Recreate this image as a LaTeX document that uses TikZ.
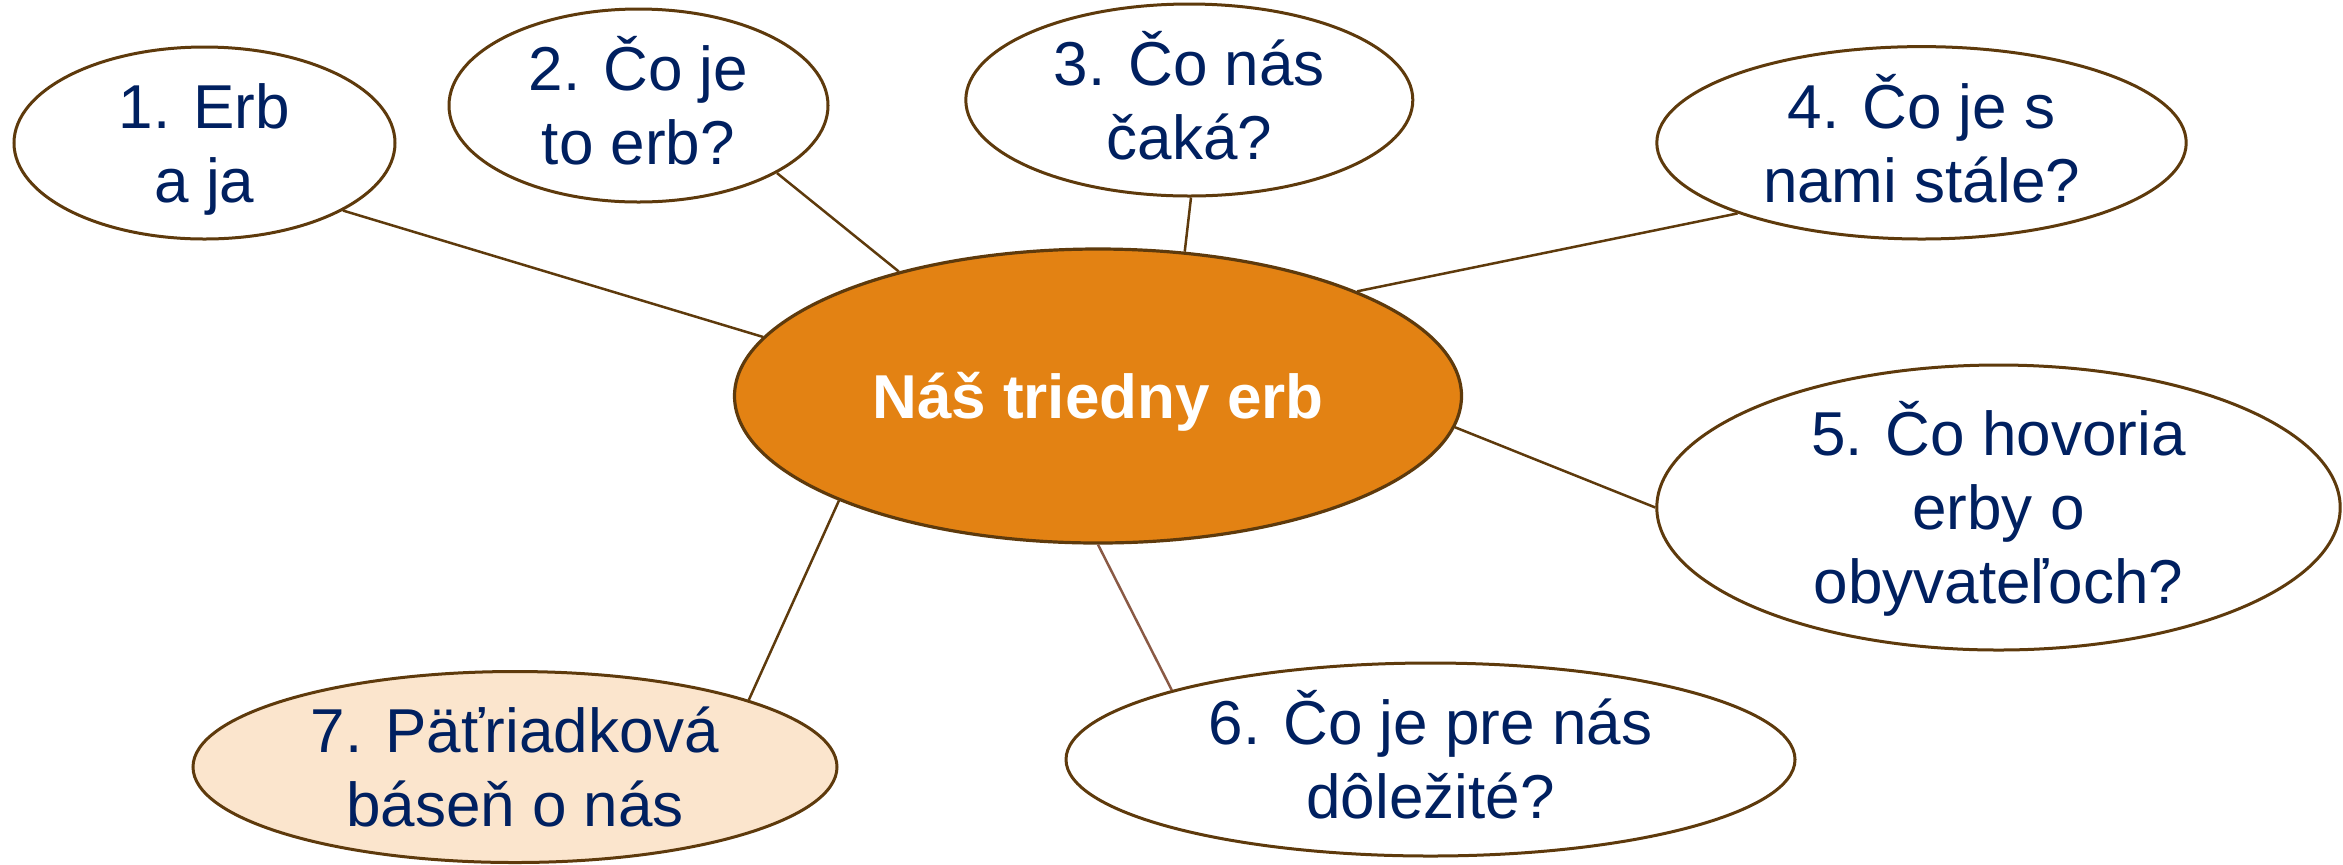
\documentclass[tikz,border=0pt]{standalone}
\usepackage{fontspec}
\setmainfont{Liberation Sans}
\usetikzlibrary{shapes.geometric}
\definecolor{linebrown}{HTML}{5E3A0C}
\definecolor{lightbrown}{HTML}{8A5A45}
\definecolor{navytext}{HTML}{002060}
\definecolor{centerorange}{HTML}{E38213}
\definecolor{peach}{HTML}{FBE5CD}
\tikzset{
  bub/.style={ellipse, draw=linebrown, line width=1.5pt, fill=white, inner sep=0pt},
  hub/.style={ellipse, draw=linebrown, line width=1.6pt, fill=centerorange, inner sep=0pt},
  txt/.style={align=center, inner sep=0pt, text=navytext,
    font=\fontsize{31pt}{37pt}\selectfont, text height=59.2pt, text depth=0pt},
  threeline/.style={text height=96.2pt},
  hubtxt/.style={align=center, inner sep=0pt, text=white,
    font=\fontsize{31pt}{37pt}\selectfont\bfseries, text height=22.2pt, text depth=0pt},
  conn/.style={draw=linebrown, line width=1.25pt},
}
\begin{document}
\begin{tikzpicture}[x=0.5pt, y=-0.5pt]
\useasboundingbox (0,0) rectangle (2343,864);
\node[hub, minimum width=363.5pt, minimum height=147pt] (c) at (1098,396) {};
\node[hubtxt] (ct) at (c) {Náš triedny erb};

\node[bub, minimum width=190.5pt, minimum height=96pt] (e1) at (204.5,143) {};
\node[txt] (t1) at (e1) {1. Erb\\a ja};

\node[bub, minimum width=189.5pt, minimum height=96.5pt] (e2) at (638.5,105.5) {};
\node[txt] (t2) at (e2) {2. Čo je\\to erb?};

\node[bub, minimum width=223.5pt, minimum height=96pt] (e3) at (1189.3,100) {};
\node[txt] (t3) at (e3) {3. Čo nás\\čaká?};

\node[bub, minimum width=264.7pt, minimum height=96.2pt] (e4) at (1921.5,142.8) {};
\node[txt] (t4) at (e4) {4. Čo je s\\nami stále?};

\node[bub, minimum width=341.7pt, minimum height=142.5pt] (e5) at (1998.5,507.5) {};
\node[txt, threeline] (t5) at (e5) {5. Čo hovoria\\erby o\\obyvateľoch?};

\node[bub, minimum width=364.5pt, minimum height=96.5pt] (e6) at (1430.5,759.5) {};
\node[txt] (t6) at (e6) {6. Čo je pre nás\\dôležité?};

\node[bub, fill=peach, minimum width=322pt, minimum height=95.5pt] (e7) at (515,767) {};
\node[txt] (t7) at (e7) {7. Päťriadková\\báseň o nás};

\draw[conn] (e1.-26.6) -- (c.170.9);
\draw[conn] (e2.-26.3) -- (c.148.4);
\draw[conn] (e3.-89.8) -- (c.59.7);
\draw[conn] (e4.-159.7) -- (c.22.0);
\draw[conn] (c.-5.1) -- (e5.180);
\draw[conn, draw=lightbrown] (c.-90) -- (e6.165.0);
\draw[conn] (c.202.3) -- (e7.16.8);
\end{tikzpicture}
\end{document}
